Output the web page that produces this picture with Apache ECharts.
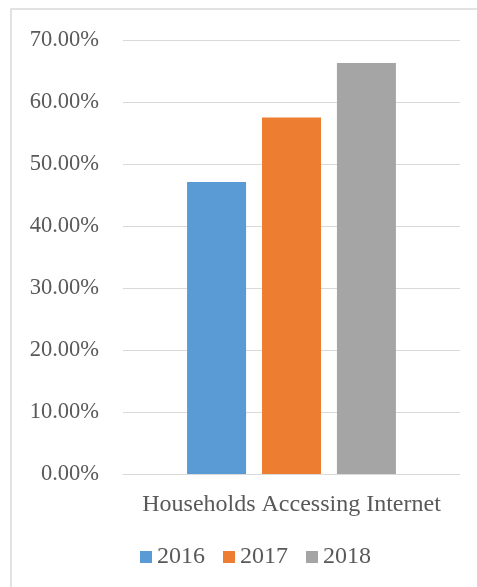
<!DOCTYPE html>
<html>
<head>
<meta charset="utf-8">
<script src="https://cdn.jsdelivr.net/npm/echarts@6/dist/echarts.min.js"></script>
<style>
html,body{margin:0;padding:0;background:#fff;}
#chart{width:477px;height:587px;}
</style>
</head>
<body>
<div id="chart"></div>
<script>
const categories = ["Households Accessing Internet"];
const seriesNames = ["2016", "2017", "2018"];
const values2016 = [47.1];
const values2017 = [57.5];
const values2018 = [66.3];
const colors = ["#5b9bd5", "#ed7d31", "#a5a5a5"];
const font = "'Liberation Serif', 'Times New Roman', serif";

const chart = echarts.init(document.getElementById('chart'));
const seriesData = [values2016, values2017, values2018];
chart.setOption({
  animation: false,
  textStyle: { fontFamily: font },
  graphic: [{
    type: 'rect',
    shape: { x: 11, y: 9, width: 520, height: 620 },
    style: { fill: 'none', stroke: '#d9d9d9', lineWidth: 1.5 },
    silent: true
  }],
  grid: { left: 123, right: 17, top: 40, bottom: 113 },
  legend: {
    data: seriesNames,
    bottom: 13,
    left: 135,
    itemWidth: 12,
    itemHeight: 12,
    itemGap: 18,
    icon: 'rect',
    textStyle: { fontFamily: font, fontSize: 24, color: '#595959' }
  },
  xAxis: {
    type: 'category',
    data: categories,
    axisLine: { show: true, lineStyle: { color: '#d9d9d9', width: 1 } },
    axisTick: { show: false },
    axisLabel: { fontFamily: font, fontSize: 24, color: '#595959', margin: 19 }
  },
  yAxis: {
    type: 'value',
    min: 0,
    max: 70,
    interval: 10,
    axisLine: { show: false },
    axisTick: { show: false },
    splitLine: { lineStyle: { color: '#d9d9d9', width: 1 } },
    axisLabel: {
      fontFamily: font, fontSize: 22.5, color: '#595959', margin: 24,
      formatter: v => v.toFixed(2) + '%'
    }
  },
  series: seriesNames.map((n, i) => ({
    name: n,
    type: 'bar',
    data: seriesData[i],
    barWidth: 59,
    barGap: '27%',
    itemStyle: { color: colors[i] }
  }))
});
</script>
</body>
</html>
